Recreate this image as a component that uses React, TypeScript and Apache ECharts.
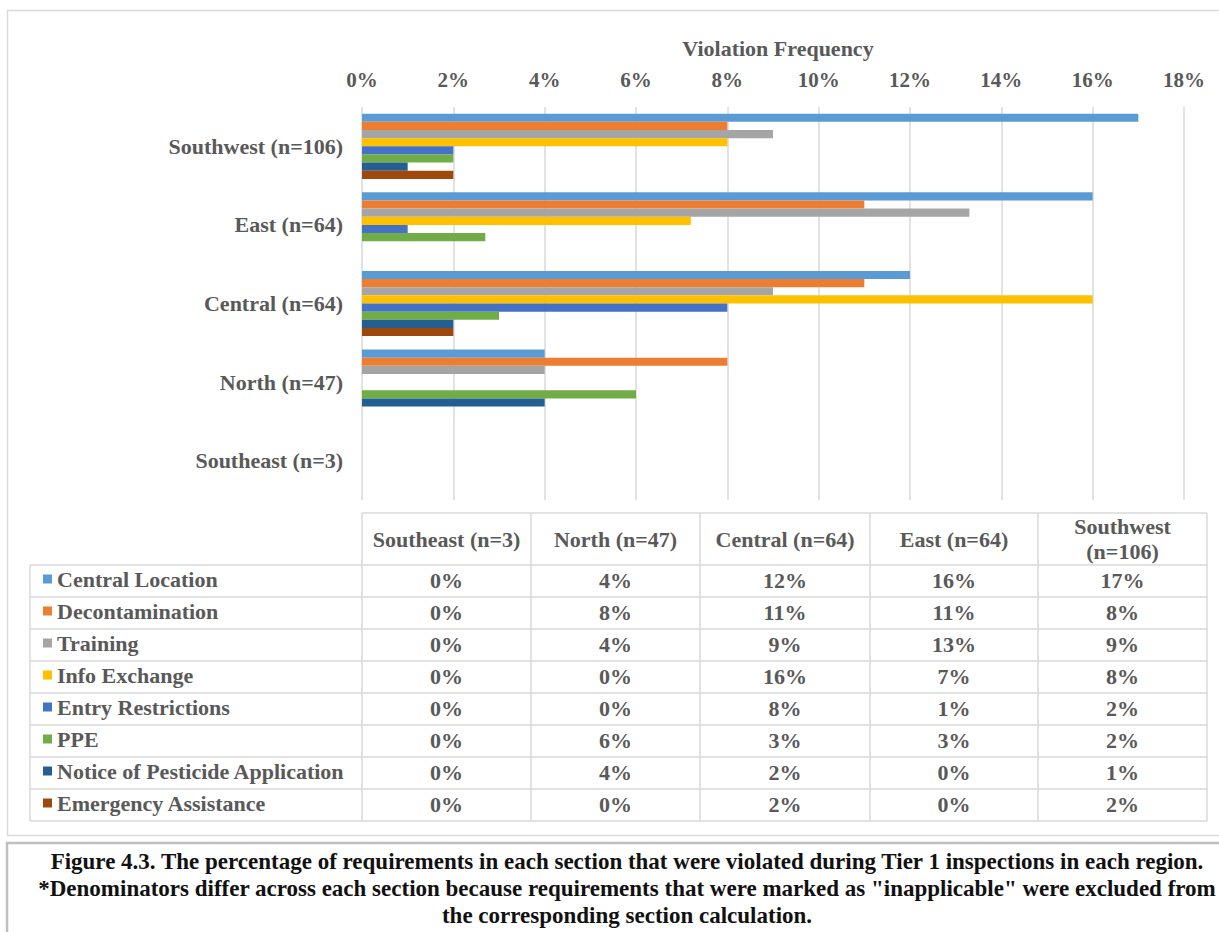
import React, { useEffect, useRef } from "react";
import * as echarts from "echarts";

// Regions, in table-column order (bottom-to-top on the chart's category axis)
const regions = ["Southeast (n=3)", "North (n=47)", "Central (n=64)", "East (n=64)", "Southwest (n=106)"];
const regionHeaders = ["Southeast (n=3)", "North (n=47)", "Central (n=64)", "East (n=64)", "Southwest\n(n=106)"];

const sectionNames = [
  "Central Location",
  "Decontamination",
  "Training",
  "Info Exchange",
  "Entry Restrictions",
  "PPE",
  "Notice of Pesticide Application",
  "Emergency Assistance",
];

// Violation frequency (%) for each section, per region
const centralLocation = [0, 4, 12, 16, 17];
const decontamination = [0, 8, 11, 11, 8];
const training = [0, 4, 9, 13.3, 9];
const infoExchange = [0, 0, 16, 7.2, 8];
const entryRestrictions = [0, 0, 8, 1, 2];
const ppe = [0, 6, 3, 2.7, 2];
const noticeOfApplication = [0, 4, 2, 0, 1];
const emergencyAssistance = [0, 0, 2, 0, 2];

const sectionValues = [
  centralLocation,
  decontamination,
  training,
  infoExchange,
  entryRestrictions,
  ppe,
  noticeOfApplication,
  emergencyAssistance,
];

const palette = ["#5B9BD5", "#ED7D31", "#A5A5A5", "#FFC000", "#4472C4", "#70AD47", "#255E91", "#9E480E"];

const xTicks = { min: 0, max: 18, interval: 2 };

const captionLines = [
  "Figure 4.3. The percentage of requirements in each section that were violated during Tier 1 inspections in each region.",
  "*Denominators differ across each section because requirements that were marked as \"inapplicable\" were excluded from",
  "the corresponding section calculation.",
];

const FONT = "'Liberation Serif', 'Times New Roman', serif";
const TEXT_GRAY = "#595959";
const LINE_GRAY = "#d9d9d9";
const FS = 22;

// Table geometry
const tableLeft = 30;
const colEdges = [362, 531, 700, 870, 1038, 1207];
const headerTop = 513;
const bodyTop = 565;
const rowH = 32;

function buildTable(): any[] {
  const els: any[] = [];
  const bodyBottom = bodyTop + rowH * sectionNames.length;
  const line = (x1: number, y1: number, x2: number, y2: number) => ({
    type: "line",
    shape: { x1, y1, x2, y2 },
    style: { stroke: LINE_GRAY, lineWidth: 1.5 },
    silent: true,
  });
  // header row borders (value columns only)
  els.push(line(colEdges[0], headerTop, colEdges[colEdges.length - 1], headerTop));
  colEdges.forEach((x) => els.push(line(x, headerTop, x, bodyBottom)));
  // body horizontal lines
  for (let r = 0; r <= sectionNames.length; r++) {
    const y = bodyTop + r * rowH;
    els.push(line(tableLeft, y, colEdges[colEdges.length - 1], y));
  }
  els.push(line(tableLeft, bodyTop, tableLeft, bodyBottom));

  // header labels
  regionHeaders.forEach((h, j) => {
    els.push({
      type: "text",
      x: (colEdges[j] + colEdges[j + 1]) / 2,
      y: (headerTop + bodyTop) / 2,
      style: {
        text: h,
        fill: TEXT_GRAY,
        font: `bold ${FS}px ${FONT}`,
        align: "center",
        verticalAlign: "middle",
        lineHeight: 25,
      },
      silent: true,
    });
  });

  // body cells
  sectionValues.forEach((vals, i) => {
    const cy = bodyTop + i * rowH + rowH / 2 - 1;
    vals.forEach((v, j) => {
      els.push({
        type: "text",
        x: (colEdges[j] + colEdges[j + 1]) / 2,
        y: cy,
        style: {
          text: `${Math.round(v)}%`,
          fill: TEXT_GRAY,
          font: `bold ${FS}px ${FONT}`,
          align: "center",
          verticalAlign: "middle",
        },
        silent: true,
      });
    });
  });
  return els;
}

export default function App() {
  const ref = useRef<HTMLDivElement>(null);

  useEffect(() => {
    if (!ref.current) return;
    const chart = echarts.init(ref.current, undefined, { renderer: "svg" });

    const series = sectionNames.map((name, i) => ({
      name,
      type: "bar",
      data: sectionValues[i],
      itemStyle: { color: palette[i] },
      barGap: "0%",
      barCategoryGap: "17%",
    }));

    const graphics: any[] = [
      // outer chart frame
      {
        type: "rect",
        shape: { x: 7.5, y: 10.5, width: 1240, height: 825 },
        style: { fill: "none", stroke: LINE_GRAY, lineWidth: 1.5 },
        silent: true,
        z: -10,
      },
      // caption frame
      {
        type: "rect",
        shape: { x: 7, y: 843, width: 1240, height: 120 },
        style: { fill: "none", stroke: "#bfbfbf", lineWidth: 2.5 },
        silent: true,
        z: -10,
      },
      ...buildTable(),
      ...captionLines.map((t, k) => ({
        type: "text",
        x: 627,
        y: 861 + k * 27,
        style: {
          text: t,
          fill: "#111111",
          font: `bold 23px ${FONT}`,
          align: "center",
          verticalAlign: "middle",
        },
        silent: true,
      })),
    ];

    chart.setOption({
      animation: false,
      backgroundColor: "#ffffff",
      textStyle: { fontFamily: FONT },
      title: {
        text: "Violation Frequency",
        left: 773,
        top: 32,
        textAlign: "center",
        textStyle: { fontFamily: FONT, fontSize: FS, fontWeight: "bold", color: TEXT_GRAY },
      },
      legend: {
        orient: "vertical",
        left: 38,
        top: 563,
        icon: "rect",
        itemWidth: 9,
        itemHeight: 9,
        itemGap: 10,
        selectedMode: false,
        data: sectionNames,
        textStyle: {
          fontFamily: FONT,
          fontSize: FS,
          fontWeight: "bold",
          color: TEXT_GRAY,
        },
      },
      grid: { left: 362, right: 35, top: 107, bottom: 432, containLabel: false },
      xAxis: {
        type: "value",
        position: "top",
        min: xTicks.min,
        max: xTicks.max,
        interval: xTicks.interval,
        axisLine: { show: false },
        axisTick: { show: false },
        axisLabel: {
          formatter: "{value}%",
          margin: 17,
          fontFamily: FONT,
          fontSize: 21,
          fontWeight: "bold",
          color: TEXT_GRAY,
        },
        splitLine: { show: true, lineStyle: { color: LINE_GRAY, width: 1.5 } },
      },
      yAxis: {
        type: "category",
        data: regions,
        axisLine: { show: false },
        axisTick: { show: false },
        axisLabel: {
          margin: 19,
          fontFamily: FONT,
          fontSize: FS,
          fontWeight: "bold",
          color: TEXT_GRAY,
        },
      },
      series,
      graphic: graphics,
    });

    return () => chart.dispose();
  }, []);

  return (
    <div
      ref={ref}
      style={{ position: "absolute", left: 0, top: 0, width: 1219, height: 932 }}
    />
  );
}
